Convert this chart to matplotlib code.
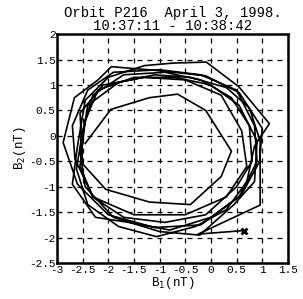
import matplotlib
matplotlib.use("Agg")
import matplotlib.pyplot as plt

# B1, B2 samples (nT), in time order (clockwise loops)
b1 = [
    -2.45, -1.95, -1.20, -0.65, -0.10, 0.40, 0.20, -0.40, -1.20, -2.05, -2.50,
    -2.55, -2.10, -1.30, -0.50, 0.20, 0.60, 0.70, 0.30, -0.50, -1.50, -2.30, -2.65,
    -2.70, -2.40, -1.90, -1.00, -0.20, 0.50, 0.85, 0.90, 0.55, -0.20, -1.10, -2.00, -2.60,
    -2.88, -2.66, -2.20, -1.94, -1.00, -0.10, 0.55, 1.00, 0.95, 0.60, 0.00, -0.80, -1.60, -2.25, -2.70,
    -2.60, -2.45, -2.00, -1.30, -0.74, -0.09, 0.54, 1.14, 0.85, 0.70, 0.30, -0.30, -1.06, -1.80, -2.40, -2.62,
    -2.50, -2.30, -1.70, -0.90, -0.20, 0.40, 0.75, 0.80, 0.50, -0.10, -0.90, -1.70, -2.30, -2.55,
    -2.45, -2.20, -1.50, -0.70, 0.00, 0.55, 0.90, 0.85, 0.45, -0.22, -1.00, -1.90, -2.45, -2.55,
    -2.40, -1.80, -1.10, -0.40, 0.30, 0.75, 0.96, 0.96, -0.25, 0.64,
]
b2 = [
    -0.15, 0.52, 0.75, 0.82, 0.50, -0.30, -0.80, -1.35, -1.30, -1.05, -0.55,
    0.45, 1.00, 1.15, 1.10, 0.80, 0.10, -0.60, -1.20, -1.55, -1.55, -1.20, -0.45,
    0.20, 0.90, 1.25, 1.30, 1.20, 0.90, 0.20, -0.50, -1.20, -1.75, -1.80, -1.55, -0.95,
    -0.13, 0.75, 1.10, 1.36, 1.28, 1.18, 0.85, 0.15, -0.50, -1.15, -1.60, -1.85, -1.70, -1.60, -0.95,
    -0.20, 0.70, 1.15, 1.38, 1.43, 1.45, 0.97, 0.24, -0.20, -0.90, -1.45, -1.78, -1.98, -1.78, -1.35, -0.65,
    0.10, 0.80, 1.20, 1.25, 1.10, 0.75, 0.20, -0.50, -1.00, -1.55, -1.70, -1.60, -1.20, -0.60,
    0.30, 0.90, 1.15, 1.15, 1.00, 0.60, -0.10, -0.90, -1.35, -1.95, -1.88, -1.60, -1.00, -0.30,
    0.60, 1.05, 1.20, 1.15, 0.95, 0.55, -0.10, -1.36, -1.93, -1.86,
]

xticks = [-3, -2.5, -2, -1.5, -1, -0.5, 0, 0.5, 1, 1.5]
yticks = [-2.5, -2, -1.5, -1, -0.5, 0, 0.5, 1, 1.5, 2]

plt.rcParams["font.family"] = "Liberation Mono"
plt.rcParams["axes.unicode_minus"] = False

fig = plt.figure(figsize=(3.03, 2.99), dpi=100)
ax = fig.add_axes([0.188, 0.120, 0.762, 0.766])

ax.plot(b1, b2, color="black", lw=1.2)
ax.plot(b1[-1], b2[-1], marker="x", color="black", ms=5, mew=2)

ax.set_xlim(-3, 1.5)
ax.set_ylim(-2.5, 2)
ax.set_xticks(xticks)
ax.set_yticks(yticks)
ax.set_xticklabels([f"{t:g}" for t in xticks])
ax.set_yticklabels([f"{t:g}" for t in yticks])
ax.tick_params(direction="in", length=3, labelsize=8, pad=1)
ax.grid(True, color="black", linestyle=(0, (4, 4)), lw=0.9)
for s in ax.spines.values():
    s.set_linewidth(1.8)

ax.set_xlabel("B$_1$(nT)", fontsize=9, labelpad=0)
ax.set_ylabel("B$_2$(nT)", fontsize=9, labelpad=1)
ax.set_title("Orbit P216  April 3, 1998.\n10:37:11 - 10:38:42",
             fontsize=10, linespacing=0.9, pad=3)

fig.savefig("out.png", dpi=100)
